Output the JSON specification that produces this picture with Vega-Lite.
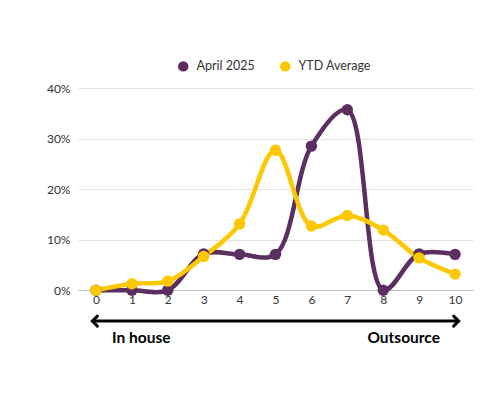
{
  "$schema": "https://vega.github.io/schema/vega-lite/v6.json",
  "width": 395,
  "height": 268,
  "autosize": {"type": "none"},
  "padding": {"left": 78, "top": 88, "right": 27, "bottom": 44},
  "background": "white",
  "config": {
    "view": {"stroke": null},
    "font": "Lato",
    "axisX": {
      "title": null,
      "labelOverlap": false,
      "offset": -66,
      "grid": false,
      "ticks": false,
      "domainColor": "#bdbdbd",
      "domainWidth": 1,
      "labelColor": "#333333",
      "labelFontSize": 12,
      "labelPadding": 4
    },
    "axisY": {
      "title": null,
      "domain": false,
      "ticks": false,
      "gridColor": "#e3e3e3",
      "gridWidth": 1,
      "labelColor": "#333333",
      "labelFontSize": 12,
      "labelPadding": 8
    }
  },
  "layer": [
    {
      "data": {
        "values": [
          {"score": 0, "series": "April 2025", "share": 0.0},
          {"score": 1, "series": "April 2025", "share": 0.0},
          {"score": 2, "series": "April 2025", "share": 0.0},
          {"score": 3, "series": "April 2025", "share": 0.072},
          {"score": 4, "series": "April 2025", "share": 0.071},
          {"score": 5, "series": "April 2025", "share": 0.071},
          {"score": 6, "series": "April 2025", "share": 0.285},
          {"score": 7, "series": "April 2025", "share": 0.357},
          {"score": 8, "series": "April 2025", "share": 0.0},
          {"score": 9, "series": "April 2025", "share": 0.072},
          {"score": 10, "series": "April 2025", "share": 0.071},
          {"score": 0, "series": "YTD Average", "share": 0.0},
          {"score": 1, "series": "YTD Average", "share": 0.013},
          {"score": 2, "series": "YTD Average", "share": 0.018},
          {"score": 3, "series": "YTD Average", "share": 0.067},
          {"score": 4, "series": "YTD Average", "share": 0.131},
          {"score": 5, "series": "YTD Average", "share": 0.277},
          {"score": 6, "series": "YTD Average", "share": 0.127},
          {"score": 7, "series": "YTD Average", "share": 0.148},
          {"score": 8, "series": "YTD Average", "share": 0.119},
          {"score": 9, "series": "YTD Average", "share": 0.064},
          {"score": 10, "series": "YTD Average", "share": 0.032}
        ]
      },
      "encoding": {
        "x": {
          "field": "score",
          "type": "quantitative",
          "scale": {"domain": [-0.5, 10.5], "nice": false, "zero": false},
          "axis": {"values": [0, 1, 2, 3, 4, 5, 6, 7, 8, 9, 10]}
        },
        "y": {
          "field": "share",
          "type": "quantitative",
          "scale": {"domain": [-0.13, 0.4], "nice": false, "zero": false},
          "axis": {"values": [0, 0.1, 0.2, 0.3, 0.4], "format": ".0%"}
        },
        "color": {
          "field": "series",
          "type": "nominal",
          "scale": {"domain": ["April 2025", "YTD Average"], "range": ["#5b2f60", "#fdc800"]},
          "legend": {
            "title": null,
            "orient": "none",
            "legendX": 99,
            "legendY": -28,
            "direction": "horizontal",
            "symbolType": "circle",
            "symbolSize": 110,
            "symbolOpacity": 1,
            "symbolStrokeWidth": 0,
            "labelFontSize": 12.5,
            "labelColor": "#333333",
            "labelOffset": 7,
            "columnPadding": 24
          }
        }
      },
      "layer": [
        {"mark": {"type": "line", "interpolate": "catmull-rom", "strokeWidth": 4.5}},
        {"mark": {"type": "point", "filled": true, "size": 130, "opacity": 1}}
      ]
    },
    {
      "data": {"values": [{"from": -0.1, "to": 10.1, "level": -0.061}]},
      "encoding": {
        "y": {"field": "level", "type": "quantitative", "axis": {"values": [0, 0.1, 0.2, 0.3, 0.4], "format": ".0%"}}
      },
      "layer": [
        {
          "mark": {"type": "rule", "strokeWidth": 3, "color": "black"},
          "encoding": {
            "x": {"field": "from", "type": "quantitative", "axis": {"values": [0, 1, 2, 3, 4, 5, 6, 7, 8, 9, 10]}},
            "x2": {"field": "to"}
          }
        },
        {
          "mark": {"type": "point", "shape": "M1,-1L0,0L1,1", "size": 100, "filled": false, "stroke": "black", "strokeWidth": 3, "strokeCap": "round", "opacity": 1},
          "encoding": {
            "x": {"field": "from", "type": "quantitative", "axis": {"values": [0, 1, 2, 3, 4, 5, 6, 7, 8, 9, 10]}}
          }
        },
        {
          "mark": {"type": "point", "shape": "M-1,-1L0,0L-1,1", "size": 100, "filled": false, "stroke": "black", "strokeWidth": 3, "strokeCap": "round", "opacity": 1},
          "encoding": {
            "x": {"field": "to", "type": "quantitative", "axis": {"values": [0, 1, 2, 3, 4, 5, 6, 7, 8, 9, 10]}}
          }
        }
      ]
    },
    {
      "data": {
        "values": [
          {"label": "In house", "pos": 0.45, "anchor": "left", "level": -0.095},
          {"label": "Outsource", "pos": 9.58, "anchor": "right", "level": -0.095}
        ]
      },
      "encoding": {
        "x": {"field": "pos", "type": "quantitative", "axis": {"values": [0, 1, 2, 3, 4, 5, 6, 7, 8, 9, 10]}},
        "y": {"field": "level", "type": "quantitative", "axis": {"values": [0, 0.1, 0.2, 0.3, 0.4], "format": ".0%"}},
        "text": {"field": "label"}
      },
      "layer": [
        {
          "transform": [{"filter": "datum.anchor == 'left'"}],
          "mark": {"type": "text", "align": "left", "baseline": "middle", "fontSize": 15.5, "fontWeight": "bold", "color": "black"}
        },
        {
          "transform": [{"filter": "datum.anchor == 'right'"}],
          "mark": {"type": "text", "align": "right", "baseline": "middle", "fontSize": 15.5, "fontWeight": "bold", "color": "black"}
        }
      ]
    }
  ]
}
